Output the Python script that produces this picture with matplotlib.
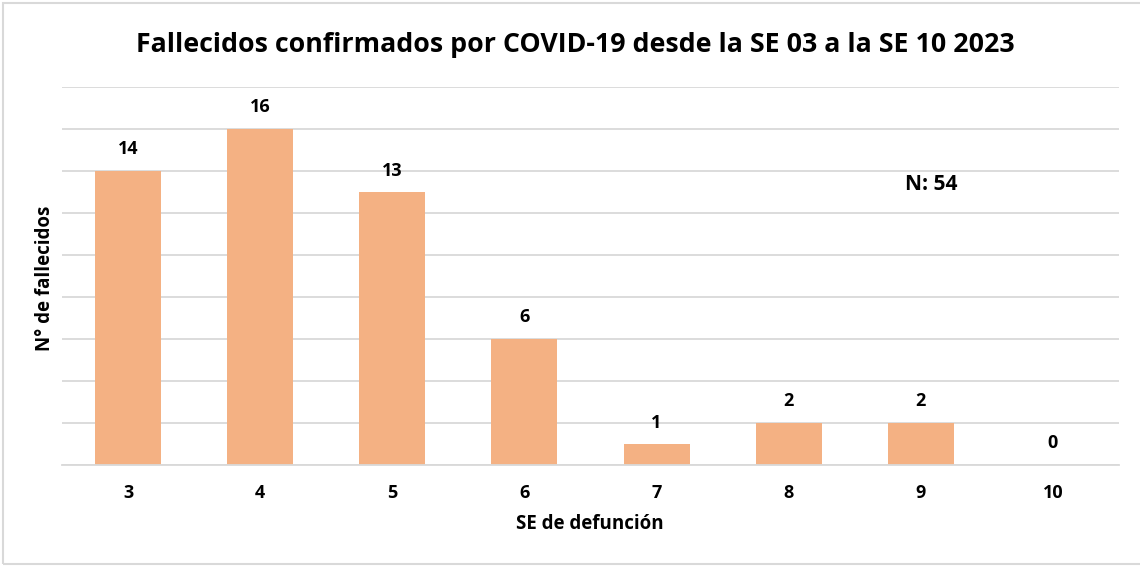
import matplotlib
matplotlib.use("Agg")
import matplotlib.pyplot as plt
from matplotlib.patches import Rectangle

weeks = ["3", "4", "5", "6", "7", "8", "9", "10"]
deaths = [14, 16, 13, 6, 1, 2, 2, 0]
title = "Fallecidos confirmados por COVID-19 desde la SE 03 a la SE 10 2023"
xlabel = "SE de defunción"
ylabel = "N° de fallecidos"
note = "N: 54"

plt.rcParams['font.family'] = ['Open Sans', 'DejaVu Sans']

W, H = 1140, 566
fig = plt.figure(figsize=(W/100, H/100), dpi=100)
ax = fig.add_axes([62/W, 1-465/H, (1119-62)/W, (465-87)/H])

x = list(range(len(weeks)))
ax.bar(x, deaths, width=0.5, color="#F4B183", zorder=2)
ax.set_xlim(-0.5, len(weeks)-0.5)
ax.set_ylim(0, 18)
ax.set_yticks(range(0, 19, 2))
ax.yaxis.grid(True, color="#D9D9D9", linewidth=1.3, zorder=0)
ax.tick_params(axis='y', left=False, labelleft=False)
ax.tick_params(axis='x', bottom=False, pad=10)
ax.set_xticks(x)
ax.set_xticklabels(weeks, fontsize=13, fontweight='bold', color="#000000")
for s in ["top", "right", "left"]:
    ax.spines[s].set_visible(False)
ax.spines["bottom"].set_color("#D9D9D9")
ax.spines["bottom"].set_linewidth(1.3)

for xi, v in zip(x, deaths):
    ax.annotate(str(v), (xi, v), xytext=(0, 9), textcoords="offset points",
                ha="center", va="bottom", fontsize=13, fontweight="bold")

fig.text(575/W, 1-45/H, title, ha="center", va="center", fontsize=19.3, fontweight="bold")
fig.text(590/W, 1-524/H, xlabel, ha="center", va="center", fontsize=13.5, fontweight="bold")
fig.text(45/W, 1-278/H, ylabel, ha="center", va="center", rotation=90, fontsize=13.5, fontweight="bold")
fig.text(931/W, 1-185/H, note, ha="center", va="center", fontsize=15, fontweight="bold")

fig.patches.append(Rectangle((3/W, 2/H), 1.2, 1-5/H, transform=fig.transFigure,
                             fill=False, edgecolor="#D9D9D9", linewidth=1.5))

fig.savefig("out.png", dpi=100)
